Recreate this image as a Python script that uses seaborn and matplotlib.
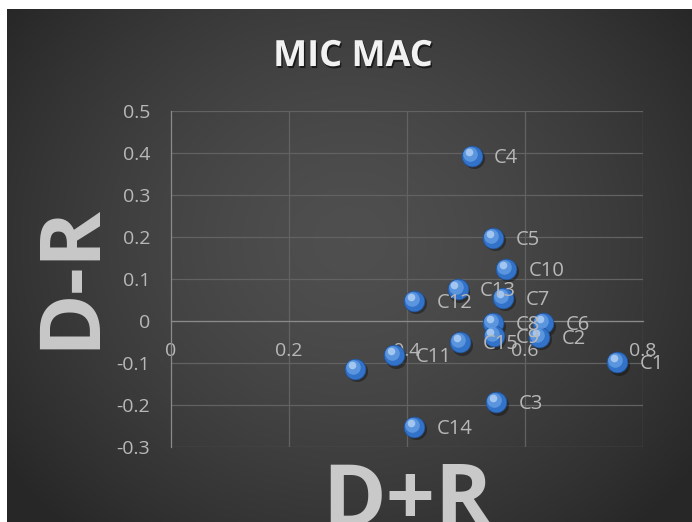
import numpy as np
import pandas as pd
import matplotlib
matplotlib.use("Agg")
import matplotlib.pyplot as plt
import matplotlib.transforms as mtransforms
import matplotlib.patheffects as pe
import seaborn as sns

# ---- data ----
labels = ["C4", "C5", "C10", "C13", "C12", "C7", "C8", "C6", "C9", "C2",
          "C15", "C11", "C1", "", "C3", "C14"]
d_plus_r = [0.510, 0.546, 0.568, 0.486, 0.412, 0.563, 0.546, 0.631, 0.547, 0.624,
            0.490, 0.378, 0.756, 0.312, 0.551, 0.412]
d_minus_r = [0.393, 0.198, 0.124, 0.076, 0.048, 0.055, -0.005, -0.005, -0.036, -0.038,
             -0.050, -0.081, -0.098, -0.114, -0.193, -0.252]
x_ticks = [0, 0.2, 0.4, 0.6, 0.8]
x_ticklabels = ["0", "0.2", "0.4", "0.6", "0.8"]
y_ticks = [-0.3, -0.2, -0.1, 0, 0.1, 0.2, 0.3, 0.4, 0.5]
y_ticklabels = ["-0.3", "-0.2", "-0.1", "0", "0.1", "0.2", "0.3", "0.4", "0.5"]
title = "MIC MAC"
x_title = "D+R"
y_title = "D-R"

df = pd.DataFrame({"label": labels, "x": d_plus_r, "y": d_minus_r})

sns.set_style("white")
plt.rcParams["font.family"] = ["Open Sans", "DejaVu Sans"]

W, H = 692, 522
fig = plt.figure(figsize=(W / 100, H / 100), dpi=100, facecolor="white")

# background with radial gradient
bg = fig.add_axes([7 / W, 0, (W - 7) / W, (H - 9) / H])
bg.set_axis_off()
ny, nx = 300, 400
yy, xx = np.mgrid[0:ny, 0:nx]
cx, cy = nx * 0.50, ny * 0.45
r = np.sqrt(((xx - cx) / (nx * 0.62)) ** 2 + ((yy - cy) / (ny * 0.75)) ** 2)
r = np.clip(r, 0, 1)
c_in, c_out = 0.31, 0.155
val = c_in + (c_out - c_in) * r ** 1.5
img = np.dstack([val, val, val])
bg.imshow(img, extent=[0, 1, 0, 1], aspect="auto", origin="upper", interpolation="bilinear")
bg.set_xlim(0, 1)
bg.set_ylim(0, 1)

# main axes
ax = fig.add_axes([171 / W, 75 / H, 472 / W, 336 / H])
ax.patch.set_alpha(0)
ax.set_xlim(0, 0.8)
ax.set_ylim(-0.3, 0.5)

grid_c = "#626262"
for xv in x_ticks[1:]:
    ax.axvline(xv, color=grid_c, lw=0.9, zorder=0)
for yv in y_ticks:
    ax.axhline(yv, color=grid_c, lw=0.9, zorder=0)

for s in ["top", "right"]:
    ax.spines[s].set_visible(False)
ax.spines["left"].set_color("#8a8a8a")
ax.spines["bottom"].set_color("#8a8a8a")
ax.spines["bottom"].set_position(("data", 0))
ax.spines["left"].set_linewidth(0.9)
ax.spines["bottom"].set_linewidth(0.9)

ax.set_xticks(x_ticks)
ax.set_xticklabels(x_ticklabels)
ax.set_yticks(y_ticks)
ax.set_yticklabels(y_ticklabels)
ax.tick_params(axis="x", direction="out", length=5, width=0.9, color="#8a8a8a",
               labelcolor="#b8b8b8", labelsize=14, pad=10)
ax.tick_params(axis="y", direction="out", length=6, width=0.9, color="#8a8a8a",
               labelcolor="#b8b8b8", labelsize=14, pad=9)

# shadow
shadow_tr = mtransforms.offset_copy(ax.transData, fig=fig, x=1.2, y=-1.8, units="points")
ax.scatter(df["x"], df["y"], s=230, color="#101010", alpha=0.45, linewidths=0,
           transform=shadow_tr, zorder=2)
# base spheres
sns.scatterplot(data=df, x="x", y="y", ax=ax, s=225, color="#3272c8",
                edgecolor="#1f4f91", linewidth=0.5, zorder=3, legend=False)
# highlights
hl_tr = mtransforms.offset_copy(ax.transData, fig=fig, x=-1.3, y=1.5, units="points")
ax.scatter(df["x"], df["y"], s=110, color="#639ce3", alpha=0.85, linewidths=0,
           transform=hl_tr, zorder=4)
hl2_tr = mtransforms.offset_copy(ax.transData, fig=fig, x=-2.4, y=2.8, units="points")
ax.scatter(df["x"], df["y"], s=30, color="#b6d3f7", alpha=0.8, linewidths=0,
           transform=hl2_tr, zorder=5)

ax.set_xlabel("")
ax.set_ylabel("")

for _, row in df.iterrows():
    if row["label"]:
        ax.annotate(row["label"], (row["x"], row["y"]), xytext=(16, -1.5),
                    textcoords="offset points", ha="left", va="center",
                    color="#b8b8b8", fontsize=14.5, zorder=6)

# title
fig.text(353 / W, 1 - 57 / H, title, ha="center", va="center", fontsize=26,
         fontweight="bold", color="#f2f2f2",
         path_effects=[pe.withSimplePatchShadow(offset=(1, -1.5), shadow_rgbFace="black", alpha=0.6)])

# big axis titles
fig.text(407 / W, -4 / H, x_title, ha="center", va="baseline", fontsize=62,
         fontweight="bold", color="#c9c9c9")
fig.text(71 / W, 1 - 276 / H, y_title, ha="center", va="center", rotation=90,
         fontsize=61, fontweight="bold", color="#c9c9c9")

fig.savefig("out.png", dpi=100, facecolor="white")
